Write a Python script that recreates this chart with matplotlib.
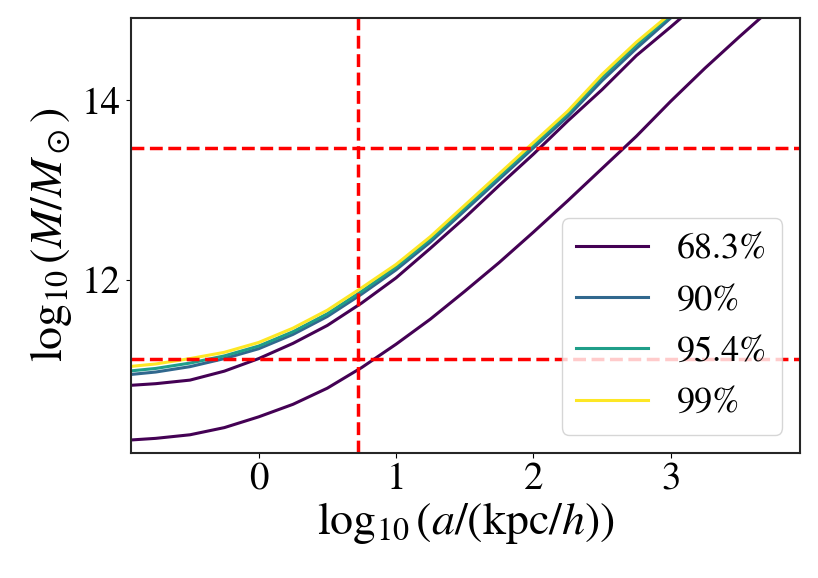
import matplotlib
matplotlib.use("Agg")
import matplotlib.pyplot as plt

plt.rcParams['mathtext.fontset'] = 'stix'
plt.rcParams['font.family'] = ['STIXGeneral', 'DejaVu Sans']

x = [-0.95, -0.75, -0.5, -0.25, 0.0, 0.25, 0.5, 0.75, 1.0, 1.25, 1.5, 1.75, 2.0,
     2.25, 2.5, 2.75, 3.0, 3.25, 3.5, 3.75]

y683_low = [10.21, 10.23, 10.27, 10.35, 10.47, 10.61, 10.79, 11.02, 11.28, 11.56, 11.87,
            12.19, 12.53, 12.88, 13.24, 13.60, 13.99, 14.36, 14.71, 15.05]
y683_up = [10.82, 10.84, 10.88, 10.98, 11.12, 11.29, 11.49, 11.74, 12.02, 12.35, 12.69,
           13.05, 13.40, 13.77, 14.12, 14.50, 14.82, 15.15, 15.5, 15.85]
y90 = [10.94, 10.97, 11.03, 11.12, 11.23, 11.39, 11.59, 11.84, 12.11, 12.42, 12.77,
       13.12, 13.47, 13.82, 14.22, 14.58, 14.92, 15.27, 15.6, 15.95]
y954 = [10.98, 11.01, 11.07, 11.15, 11.26, 11.42, 11.62, 11.87, 12.14, 12.45, 12.80,
        13.15, 13.50, 13.85, 14.26, 14.62, 14.95, 15.3, 15.65, 16.0]
y99 = [11.03, 11.06, 11.12, 11.19, 11.30, 11.46, 11.66, 11.91, 12.17, 12.48, 12.83,
       13.18, 13.53, 13.88, 14.29, 14.65, 14.97, 15.32, 15.67, 16.02]

labels = ['68.3%', '90%', '95.4%', '99%']
colors = ['#440154', '#31688e', '#1f9e89', '#fde725']

vline_x = 0.723
hline_ys = [13.47, 11.12]

fig = plt.figure(figsize=(8.18, 5.78), dpi=100)
ax = fig.add_axes([130.7/818, 1-452.7/578, (800-130.7)/818, (452.7-18)/578])

ax.plot(x, y683_low, color=colors[0], lw=2.2)
ax.plot(x, y683_up, color=colors[0], lw=2.2, label=labels[0])
ax.plot(x, y90, color=colors[1], lw=2.2, label=labels[1])
ax.plot(x, y954, color=colors[2], lw=2.2, label=labels[2])
ax.plot(x, y99, color=colors[3], lw=2.2, label=labels[3])

ax.axvline(vline_x, color='red', ls='--', lw=2.5)
for hy in hline_ys:
    ax.axhline(hy, color='red', ls='--', lw=2.5)

ax.set_xlim(-0.932, 3.942)
ax.set_ylim(10.07, 14.92)
ax.set_xticks([0, 1, 2, 3])
ax.set_yticks([12, 14])
ax.tick_params(labelsize=28)
for s in ax.spines.values():
    s.set_color('#262626')
    s.set_linewidth(1.5)

ax.set_xlabel(r'$\log_{10}(a/(\mathrm{kpc}/h))$', fontsize=33, labelpad=2)
ax.set_ylabel(r'$\log_{10}(M/M_\odot)$', fontsize=33, labelpad=6)

ax.legend(loc='lower right', fontsize=26, handlelength=2.0)

fig.savefig('out.png', dpi=100)
